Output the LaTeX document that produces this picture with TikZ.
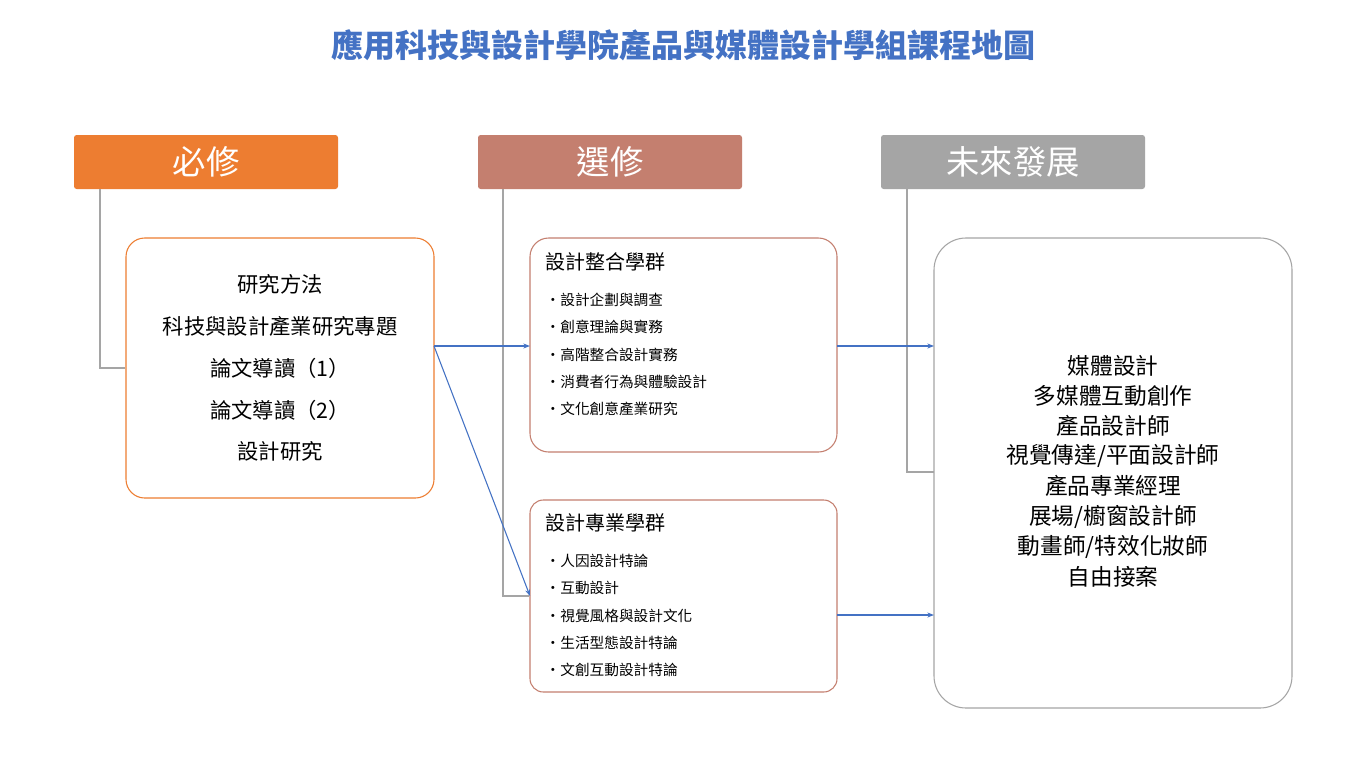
\documentclass[tikz,border=0pt]{standalone}
\usepackage{fontspec}
\setmainfont{Noto Sans CJK TC}
\usetikzlibrary{arrows.meta}
\definecolor{tblue}{HTML}{4472C4}
\definecolor{org}{HTML}{ED7D31}
\definecolor{brn}{HTML}{C47F6F}
\definecolor{gry}{HTML}{A5A5A5}
\begin{document}
\begin{tikzpicture}[x=0.75pt,y=-0.75pt,
 hdr/.style={rounded corners=2pt,minimum width=264*0.75pt,minimum height=54*0.75pt,text=white,font=\fontsize{25}{28}\selectfont,inner sep=0},
 box/.style={draw,rounded corners=14pt,line width=0.8pt,inner sep=0},
 link/.style={gry,line width=0.8pt},
 arr/.style={tblue,line width=0.8pt,-{Stealth[length=5pt]}},
 it/.style={anchor=west,font=\fontsize{11}{13}\selectfont}]
\useasboundingbox (0,0) rectangle (1366,768);
\fill[white] (0,0) rectangle (1366,768);
\node[text=tblue,font=\fontsize{24}{28}\selectfont\bfseries] (title) at (683,45) {應用科技與設計學院產品與媒體設計學組課程地圖};
\node[hdr,fill=org] (h1) at (206,162) {必修};
\node[hdr,fill=brn] (h2) at (610,162) {選修};
\node[hdr,fill=gry] (h3) at (1013,162) {未來發展};
\node[box,draw=org,minimum width=308*0.75pt,minimum height=260*0.75pt] (b1) at (280,368) {};
\node[box,draw=brn,minimum width=307*0.75pt,minimum height=214*0.75pt] (b2) at (683.5,345) {};
\node[box,draw=brn,minimum width=307*0.75pt,minimum height=192*0.75pt,rounded corners=10pt] (b3) at (683.5,596) {};
\node[box,draw=gry,minimum width=358*0.75pt,minimum height=470*0.75pt,rounded corners=24pt] (b4) at (1113,473) {};
\begin{scope}[font=\fontsize{16}{19}\selectfont]
\node (t1) at (280,284) {研究方法};
\node (t2) at (280,326) {科技與設計產業研究專題};
\node (t3) at (280,368) {論文導讀（1）};
\node (t4) at (280,410) {論文導讀（2）};
\node (t5) at (280,451) {設計研究};
\end{scope}
\node[anchor=west,font=\fontsize{15}{18}\selectfont] (g1) at (541,262) {設計整合學群};
\node[it] (a1) at (541,300) {・設計企劃與調查};
\node[it] (a2) at (541,327) {・創意理論與實務};
\node[it] (a3) at (541,355) {・高階整合設計實務};
\node[it] (a4) at (541,382) {・消費者行為與體驗設計};
\node[it] (a5) at (541,409) {・文化創意產業研究};
\node[anchor=west,font=\fontsize{15}{18}\selectfont] (g2) at (541,523) {設計專業學群};
\node[it] (c1) at (541,561) {・人因設計特論};
\node[it] (c2) at (541,588) {・互動設計};
\node[it] (c3) at (541,616) {・視覺風格與設計文化};
\node[it] (c4) at (541,643) {・生活型態設計特論};
\node[it] (c5) at (541,670) {・文創互動設計特論};
\begin{scope}[font=\fontsize{17}{20}\selectfont]
\node (f1) at (1113,366) {媒體設計};
\node (f2) at (1113,396) {多媒體互動創作};
\node (f3) at (1113,426) {產品設計師};
\node (f4) at (1113,456) {視覺傳達/平面設計師};
\node (f5) at (1113,486) {產品專業經理};
\node (f6) at (1113,517) {展場/櫥窗設計師};
\node (f7) at (1113,547) {動畫師/特效化妝師};
\node (f8) at (1113,577) {自由接案};
\end{scope}
\coordinate (p1) at (100,189);
\coordinate (p2) at (503,189);
\coordinate (p3) at (907,189);
\draw[link] (p1) |- (b1.west);
\draw[link] (p2) |- (b3.west);
\draw[link] (p3) |- (934,472);
\coordinate (o1) at (434,346);
\draw[arr] (o1) -- (530,346);
\draw[arr] (o1) -- (530,596);
\draw[arr] (837,346) -- (934,346);
\draw[arr] (837,615) -- (934,615);
\end{tikzpicture}
\end{document}
